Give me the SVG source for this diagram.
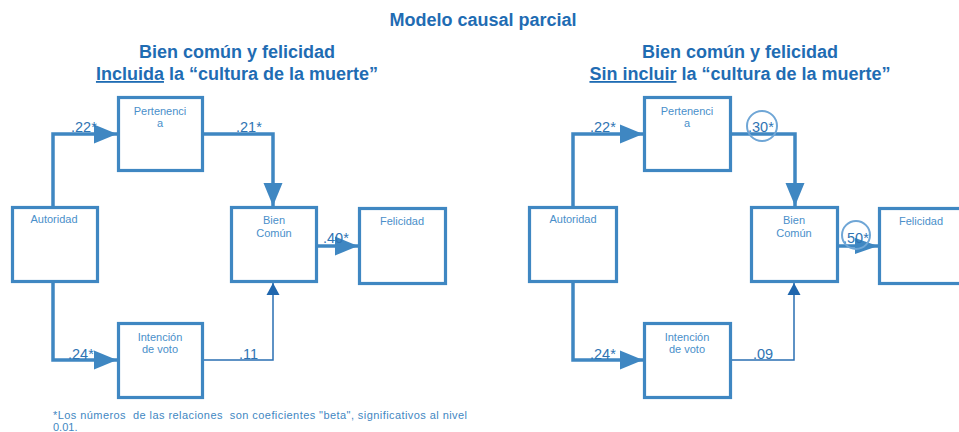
<svg xmlns="http://www.w3.org/2000/svg" width="959" height="432" viewBox="0 0 959 432">
<style>
.box{fill:#fff;stroke:#3f87c2;stroke-width:3.2}
.lbl{font-family:"Liberation Sans",Arial,sans-serif;font-size:11px;fill:#4a8fca;text-anchor:middle}
.num{font-family:"Liberation Sans",Arial,sans-serif;font-size:14.5px;fill:#2f74b3}
.ttl{font-family:"Liberation Sans",Arial,sans-serif;font-size:18px;font-weight:bold;fill:#1f6cb3;text-anchor:middle}
.thick{fill:none;stroke:#3f87c2;stroke-width:3.5}
.thin{fill:none;stroke:#2a6fb3;stroke-width:1.5}
.ring{fill:none;stroke:#6fa6d6;stroke-width:2}
.note{font-family:"Liberation Sans",Arial,sans-serif;font-size:11px;fill:#3f87c2;white-space:pre}
</style>
<defs>
<marker id="big" markerUnits="userSpaceOnUse" markerWidth="24" markerHeight="20" refX="23" refY="9.5" orient="auto" overflow="visible"><path d="M0,0 L23,9.5 L0,19 z" fill="#3f87c2"/></marker>
<marker id="mid" markerUnits="userSpaceOnUse" markerWidth="24" markerHeight="18" refX="23" refY="8" orient="auto" overflow="visible"><path d="M0,0 L23,8 L0,16 z" fill="#3f87c2"/></marker>
<marker id="small" markerUnits="userSpaceOnUse" markerWidth="14" markerHeight="14" refX="12" refY="6.5" orient="auto" overflow="visible"><path d="M0,0 L12,6.5 L0,13 z" fill="#1f66ad"/></marker>
</defs>

<text class="ttl" x="483" y="26">Modelo causal parcial</text>
<text class="ttl" x="237" y="58">Bien común y felicidad</text>
<text class="ttl" x="237" y="80"><tspan text-decoration="underline">Incluida</tspan> la “cultura de la muerte”</text>
<text class="ttl" x="740" y="58">Bien común y felicidad</text>
<text class="ttl" x="740" y="80"><tspan text-decoration="underline">Sin incluir</tspan> la “cultura de la muerte”</text>

<g id="connectors">
<path class="thick" d="M53,206 V134 H117" marker-end="url(#big)"/>
<path class="thick" d="M204,134 H273 V206" marker-end="url(#big)"/>
<path class="thick" d="M318,246 H358" marker-end="url(#big)"/>
<path class="thick" d="M53,283 V360 H117" marker-end="url(#big)"/>
<path class="thin" d="M204,360 H273 V283" marker-end="url(#small)"/>
<path class="thick" d="M573,206 V134 H643" marker-end="url(#big)"/>
<path class="thick" d="M732,134 H795 V206" marker-end="url(#big)"/>
<path class="thick" d="M839,246 H878" marker-end="url(#mid)"/>
<path class="thick" d="M573,283 V360 H643" marker-end="url(#big)"/>
<path class="thin" d="M732,360 H794 V283" marker-end="url(#small)"/>
<text class="num" x="71" y="132">.22*</text>
<text class="num" x="236" y="132">.21*</text>
<text class="num" x="323" y="243">.40*</text>
<text class="num" x="68" y="359">.24*</text>
<text class="num" x="239" y="359">.11</text>
<text class="num" x="590" y="132">.22*</text>
<text class="num" x="748" y="132">.30*</text>
<circle class="ring" cx="762" cy="126" r="15"/>
<text class="num" x="843" y="243">.50*</text>
<circle class="ring" cx="856" cy="235" r="14"/>
<text class="num" x="590" y="359">.24*</text>
<text class="num" x="753" y="359">.09</text>
</g>

<g id="pertenencia-a"><rect class="box" x="118.5" y="97.5" width="84" height="73"/><text class="lbl" x="160" y="115">Pertenenci</text><text class="lbl" x="160" y="127">a</text></g>
<g id="autoridad-a"><rect class="box" x="12.5" y="207.5" width="85" height="74"/><text class="lbl" x="54" y="223">Autoridad</text></g>
<g id="biencomun-a"><rect class="box" x="231.5" y="207.5" width="85" height="74"/><text class="lbl" x="274" y="224">Bien</text><text class="lbl" x="274" y="237">Común</text></g>
<g id="felicidad-a"><rect class="box" x="359.5" y="208.5" width="86" height="75"/><text class="lbl" x="402" y="225">Felicidad</text></g>
<g id="intencion-a"><rect class="box" x="118.5" y="323.5" width="84" height="74"/><text class="lbl" x="160" y="341">Intención</text><text class="lbl" x="160" y="353">de voto</text></g>

<g id="pertenencia-b"><rect class="box" x="644.5" y="97.5" width="86" height="73"/><text class="lbl" x="687" y="115">Pertenenci</text><text class="lbl" x="687" y="127">a</text></g>
<g id="autoridad-b"><rect class="box" x="529.5" y="207.5" width="87" height="74"/><text class="lbl" x="573" y="223">Autoridad</text></g>
<g id="biencomun-b"><rect class="box" x="751.5" y="207.5" width="86" height="74"/><text class="lbl" x="794" y="224">Bien</text><text class="lbl" x="794" y="237">Común</text></g>
<g id="felicidad-b"><rect class="box" x="879.5" y="208.5" width="86" height="75"/><text class="lbl" x="921" y="225">Felicidad</text></g>
<g id="intencion-b"><rect class="box" x="644.5" y="323.5" width="86" height="74"/><text class="lbl" x="687" y="341">Intención</text><text class="lbl" x="687" y="353">de voto</text></g>

<text class="note" x="53" y="419" textLength="414" lengthAdjust="spacing">*Los números  de las relaciones  son coeficientes "beta", significativos al nivel</text>
<text class="note" x="53" y="431">0.01.</text>
</svg>
